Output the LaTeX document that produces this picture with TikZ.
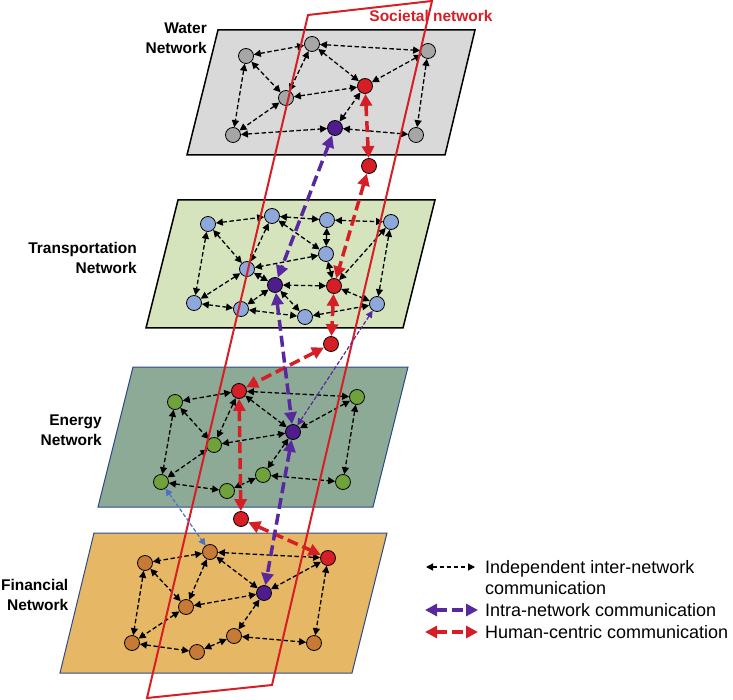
\documentclass[tikz,border=0pt]{standalone}
\usepackage{fontspec}
\setmainfont{Liberation Sans}
\usetikzlibrary{arrows.meta,positioning}
\definecolor{waterbg}{RGB}{217,217,217}
\definecolor{waterdot}{RGB}{166,166,166}
\definecolor{transbg}{RGB}{214,228,190}
\definecolor{transdot}{RGB}{143,168,220}
\definecolor{energybg}{RGB}{141,170,150}
\definecolor{energydot}{RGB}{112,162,60}
\definecolor{finbg}{RGB}{230,184,101}
\definecolor{findot}{RGB}{199,122,53}
\definecolor{socred}{RGB}{214,30,38}
\definecolor{intrapurple}{RGB}{88,40,158}
\definecolor{hubpurple}{RGB}{78,28,140}
\definecolor{crossblue}{RGB}{74,114,196}
\definecolor{planeblue}{RGB}{46,74,138}

\begin{document}
\begin{tikzpicture}[x=1pt,y=-1pt,
    dot/.style={circle,draw,line width=0.8pt,inner sep=0pt,minimum size=15pt},
    link/.style={draw,line width=1.3pt,dash pattern=on 4.5pt off 2.5pt,
      {Triangle[length=7pt,width=7pt]}-{Triangle[length=7pt,width=7pt]}},
    human/.style={draw=socred,line width=3.5pt,dash pattern=on 11pt off 5pt,
      {Triangle[length=12pt,width=12pt]}-{Triangle[length=12pt,width=12pt]}},
    intra/.style={draw=intrapurple,line width=3.5pt,dash pattern=on 11pt off 5pt,
      {Triangle[length=12pt,width=12pt]}-{Triangle[length=12pt,width=12pt]}},
    thinlink/.style={line width=1.2pt,dash pattern=on 4pt off 2pt,
      {Triangle[length=7pt,width=7pt]}-{Triangle[length=7pt,width=7pt]}},
    layerlabel/.style={align=right,anchor=east,inner sep=0pt,
      font=\fontsize{15.5}{19.5}\selectfont\bfseries},
    legtext/.style={align=left,anchor=west,inner sep=0pt,
      font=\fontsize{18}{21}\selectfont}]

    \useasboundingbox (0,0) rectangle (733,700);

    % Planes
    \draw[fill=waterbg,line width=1.5pt] (187,155) -- (445,155) -- (475,30) -- (218,30) -- cycle;
    \draw[fill=transbg,line width=1.5pt] (146,328) -- (403,328) -- (435,200) -- (178,200) -- cycle;
    \draw[fill=energybg,draw=planeblue,line width=1pt] (98,507) -- (373,507) -- (408,367) -- (133,367) -- cycle;
    \draw[fill=finbg,draw=planeblue,line width=1pt] (60,673) -- (352,673) -- (387,533) -- (94,533) -- cycle;

    \node[layerlabel] (wlab) at (207,38) {Water\\Network};
    \node[layerlabel] (tlab) at (137,258) {Transportation\\Network};
    \node[layerlabel] (elab) at (102,430) {Energy\\Network};
    \node[layerlabel] (flab) at (68.5,595) {Financial\\Network};

    % Water network
    \node[dot,fill=waterdot] (w1) at (246,56) {};
    \node[dot,fill=waterdot] (w2) at (312,44) {};
    \node[dot,fill=waterdot] (w3) at (428,51) {};
    \node[dot,fill=socred] (w4) at (365,86) {};
    \node[dot,fill=waterdot] (w5) at (286,98) {};
    \node[dot,fill=waterdot] (w6) at (233,135) {};
    \node[dot,fill=hubpurple] (w7) at (335,128) {};
    \node[dot,fill=waterdot] (w8) at (416,135) {};
    \path[link] (w1) edge (w2) (w2) edge (w3) (w1) edge (w5) (w1) edge (w6)
      (w2) edge (w5) (w2) edge (w4) (w3) edge (w4) (w3) edge (w8) (w5) edge (w4)
      (w5) edge (w6) (w6) edge (w7) (w7) edge (w4) (w8) edge (w7);

    % Transportation network
    \node[dot,fill=transdot] (t1) at (208,224) {};
    \node[dot,fill=transdot] (t2) at (272,216) {};
    \node[dot,fill=transdot] (t3) at (327,220) {};
    \node[dot,fill=transdot] (t4) at (391,222) {};
    \node[dot,fill=transdot] (t5) at (326,254) {};
    \node[dot,fill=transdot] (t6) at (247,269) {};
    \node[dot,fill=hubpurple] (t7) at (275,285) {};
    \node[dot,fill=socred] (t8) at (334,286) {};
    \node[dot,fill=transdot] (t9) at (194,303) {};
    \node[dot,fill=transdot] (t10) at (241,309) {};
    \node[dot,fill=transdot] (t11) at (305,317) {};
    \node[dot,fill=transdot] (t12) at (377,304) {};
    \path[link] (t1) edge (t2) (t2) edge (t3) (t3) edge (t4) (t1) edge (t6) (t1) edge (t9)
      (t2) edge (t6) (t2) edge (t5) (t3) edge (t5) (t5) edge (t6) (t5) edge (t8)
      (t4) edge (t8) (t4) edge (t12) (t6) edge (t7) (t6) edge (t9) (t7) edge (t10)
      (t7) edge (t11) (t8) edge (t7) (t12) edge (t8) (t9) edge (t10) (t10) edge (t11)
      (t11) edge (t12);

    % Energy network
    \node[dot,fill=socred] (e1) at (239,391) {};
    \node[dot,fill=energydot] (e2) at (175,402) {};
    \node[dot,fill=energydot] (e3) at (357,397) {};
    \node[dot,fill=energydot] (e4) at (214,445) {};
    \node[dot,fill=hubpurple] (e5) at (293,432) {};
    \node[dot,fill=energydot] (e6) at (161,482) {};
    \node[dot,fill=energydot] (e7) at (227,491) {};
    \node[dot,fill=energydot] (e8) at (263,475) {};
    \node[dot,fill=energydot] (e9) at (343,482) {};
    \path[link] (e1) edge (e2) (e1) edge (e3) (e1) edge (e4) (e1) edge (e5) (e2) edge (e4)
      (e2) edge (e6) (e3) edge (e5) (e3) edge (e9) (e4) edge (e5) (e4) edge (e6)
      (e5) edge (e8) (e6) edge (e7) (e7) edge (e8) (e8) edge (e9);

    % Financial network
    \node[dot,fill=findot] (f1) at (145,563) {};
    \node[dot,fill=findot] (f2) at (210,552) {};
    \node[dot,fill=socred] (f3) at (328,558) {};
    \node[dot,fill=findot] (f4) at (186,607) {};
    \node[dot,fill=hubpurple] (f5) at (264,593) {};
    \node[dot,fill=findot] (f6) at (132,643) {};
    \node[dot,fill=findot] (f7) at (197,652) {};
    \node[dot,fill=findot] (f8) at (234,636) {};
    \node[dot,fill=findot] (f9) at (314,643) {};
    \path[link] (f2) edge (f1) (f2) edge (f3) (f2) edge (f4) (f2) edge (f5) (f1) edge (f4)
      (f1) edge (f6) (f3) edge (f5) (f3) edge (f9) (f4) edge (f5) (f4) edge (f6)
      (f5) edge (f8) (f6) edge (f7) (f7) edge (f8) (f8) edge (f9);

    % People between the layers
    \node[dot,fill=socred] (r1) at (369,166) {};
    \node[dot,fill=socred] (r2) at (331,344) {};
    \node[dot,fill=socred] (r3) at (241,519) {};

    % Societal network
    \draw[socred,line width=2pt] (308,15) -- (432,1) -- (272,685) -- (147,698) -- cycle;
    \node[text=socred,inner sep=0pt,font=\fontsize{15.5}{18}\selectfont\bfseries] (soc) at (431,16) {Societal network};

    \draw[human] (w4) -- (r1);
    \draw[human] (r1) -- (t8);
    \draw[human] (t8) -- (r2);
    \draw[human] (r2) -- (e1);
    \draw[human] (e1) -- (r3);
    \draw[human] (r3) -- (f3);
    \draw[intra] (w7) -- (t7);
    \draw[intra] (t7) -- (e5);
    \draw[intra] (e5) -- (f5);
    \draw[thinlink,intrapurple] (t12) -- (e5);
    \draw[thinlink,crossblue] (e6) -- (f2);

    % Legend
    \node[legtext] (lt1) at (485,577.5) {Independent inter-network\\communication};
    \node[legtext] (lt2) at (485,610) {Intra-network communication};
    \node[legtext] (lt3) at (485,632) {Human-centric communication};
    \coordinate (ls1) at (426,567);
    \coordinate (le1) at (475,567);
    \coordinate (ls2) at (425,610);
    \coordinate (le2) at (478,610);
    \coordinate (ls3) at (425,632);
    \coordinate (le3) at (478,632);
    \draw[link] (ls1) -- (le1);
    \draw[intra] (ls2) -- (le2);
    \draw[human] (ls3) -- (le3);
\end{tikzpicture}
\end{document}
